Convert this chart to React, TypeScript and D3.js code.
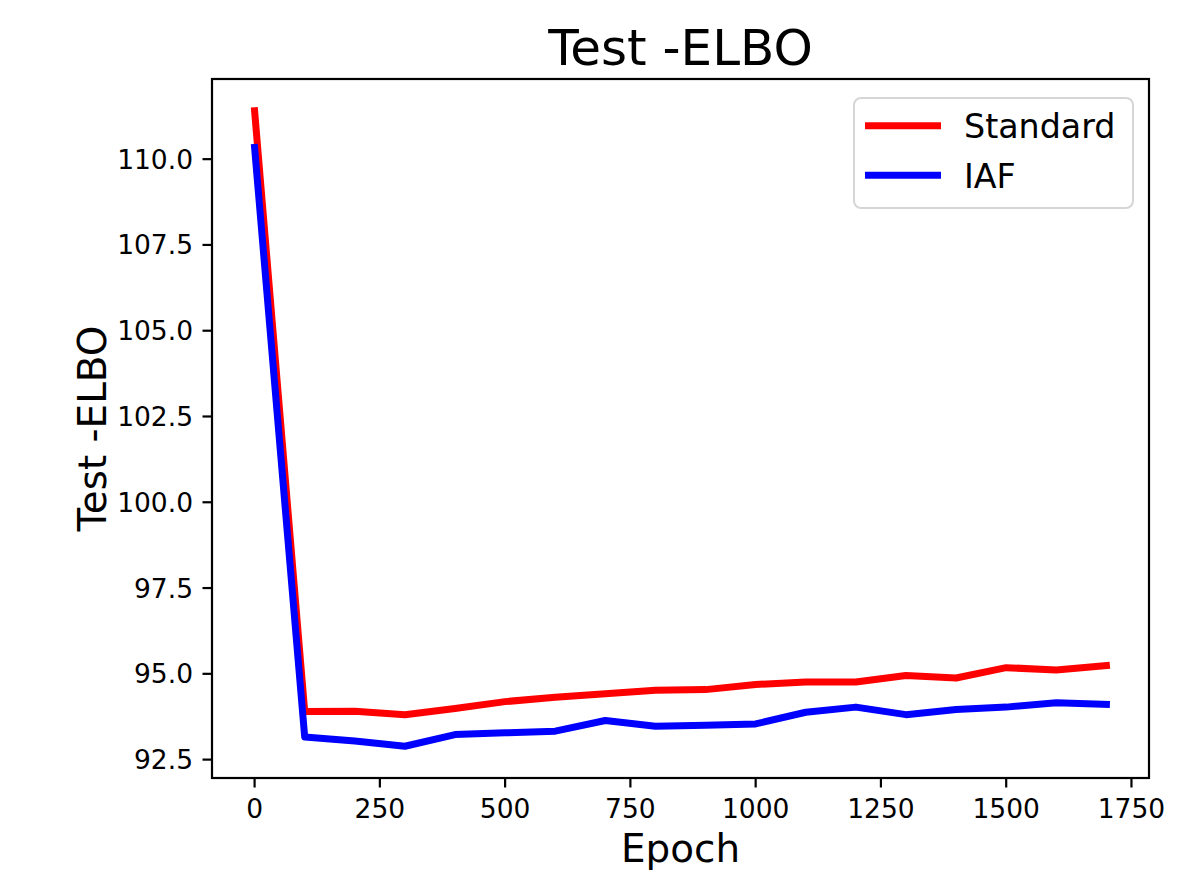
import React, { useRef, useEffect } from 'react';
import * as d3 from 'd3';

// epochs and test -ELBO values
const epochs = [0, 100, 200, 300, 400, 500, 600, 700, 800, 900, 1000, 1100, 1200, 1300, 1400, 1500, 1600, 1700];
const standard = [111.41, 93.9, 93.91, 93.81, 93.99, 94.19, 94.32, 94.42, 94.52, 94.54, 94.69, 94.76, 94.76, 94.95, 94.88, 95.18, 95.11, 95.24];
const iaf = [110.34, 93.16, 93.04, 92.89, 93.23, 93.28, 93.33, 93.64, 93.47, 93.5, 93.54, 93.88, 94.03, 93.81, 93.96, 94.03, 94.16, 94.11];
const seriesNames = ['Standard', 'IAF'];
const seriesColors = ['#ff0000', '#0000ff'];
const xTicks = [0, 250, 500, 750, 1000, 1250, 1500, 1750];
const yTicks = [92.5, 95.0, 97.5, 100.0, 102.5, 105.0, 107.5, 110.0];

const FONT = '"DejaVu Sans", sans-serif';

const TestElboChart: React.FC = () => {
  const chartRef = useRef<SVGSVGElement>(null);

  useEffect(() => {
    if (!chartRef.current) return;
    const svg = d3.select(chartRef.current);
    svg.selectAll('*').remove();

    const left = 212, right = 1149, top = 79, bottom = 778;

    // matplotlib style 5% margins
    const xr = d3.max(epochs)! - d3.min(epochs)!;
    const allY = [...standard, ...iaf];
    const yMin = d3.min(allY)!, yMax = d3.max(allY)!;
    const yr = yMax - yMin;

    const x = d3.scaleLinear()
      .domain([d3.min(epochs)! - xr * 0.05, d3.max(epochs)! + xr * 0.05])
      .range([left, right]);
    const y = d3.scaleLinear()
      .domain([yMin - yr * 0.05, yMax + yr * 0.05])
      .range([bottom, top]);

    svg.append('rect')
      .attr('width', 1180).attr('height', 870).attr('fill', '#fff');

    // lines
    const data = [standard, iaf];
    const line = d3.line<number>()
      .x((_, i) => x(epochs[i]))
      .y(d => y(d));

    data.forEach((vals, k) => {
      svg.append('path')
        .datum(vals)
        .attr('fill', 'none')
        .attr('stroke', seriesColors[k])
        .attr('stroke-width', 7)
        .attr('stroke-linejoin', 'round')
        .attr('stroke-linecap', 'square')
        .attr('d', line);
    });

    // spines
    svg.append('rect')
      .attr('x', left).attr('y', top)
      .attr('width', right - left).attr('height', bottom - top)
      .attr('fill', 'none')
      .attr('stroke', '#000')
      .attr('stroke-width', 2.2);

    // x ticks
    const xg = svg.append('g');
    xTicks.forEach(t => {
      xg.append('line')
        .attr('x1', x(t)).attr('x2', x(t))
        .attr('y1', bottom).attr('y2', bottom + 9.5)
        .attr('stroke', '#000').attr('stroke-width', 2.2);
      xg.append('text')
        .attr('x', x(t)).attr('y', 818)
        .attr('text-anchor', 'middle')
        .style('font-family', FONT)
        .style('font-size', '26.5px')
        .text(String(t));
    });

    // y ticks
    const yg = svg.append('g');
    yTicks.forEach(t => {
      yg.append('line')
        .attr('x1', left - 9.5).attr('x2', left)
        .attr('y1', y(t)).attr('y2', y(t))
        .attr('stroke', '#000').attr('stroke-width', 2.2);
      yg.append('text')
        .attr('x', left - 19).attr('y', y(t))
        .attr('dy', '0.36em')
        .attr('text-anchor', 'end')
        .style('font-family', FONT)
        .style('font-size', '26.5px')
        .text(t.toFixed(1));
    });

    // title and axis labels
    svg.append('text')
      .attr('x', (left + right) / 2).attr('y', 65)
      .attr('text-anchor', 'middle')
      .style('font-family', FONT)
      .style('font-size', '50px')
      .text('Test -ELBO');

    svg.append('text')
      .attr('x', (left + right) / 2).attr('y', 862)
      .attr('text-anchor', 'middle')
      .style('font-family', FONT)
      .style('font-size', '38.9px')
      .text('Epoch');

    svg.append('text')
      .attr('transform', `translate(106,${(top + bottom) / 2}) rotate(-90)`)
      .attr('text-anchor', 'middle')
      .style('font-family', FONT)
      .style('font-size', '38.9px')
      .text('Test -ELBO');

    // legend
    const legend = svg.append('g');
    legend.append('rect')
      .attr('x', 854).attr('y', 98)
      .attr('width', 279).attr('height', 110)
      .attr('rx', 7)
      .attr('fill', '#fff')
      .attr('stroke', '#d6d6d6')
      .attr('stroke-width', 2);

    seriesNames.forEach((name, i) => {
      const ly = 125.7 + i * 49.5;
      legend.append('line')
        .attr('x1', 865).attr('x2', 941)
        .attr('y1', ly).attr('y2', ly)
        .attr('stroke', seriesColors[i])
        .attr('stroke-width', 7);
      legend.append('text')
        .attr('x', 964).attr('y', ly + 12.3)
        .style('font-family', FONT)
        .style('font-size', '33.3px')
        .text(name);
    });
  }, []);

  return (
    <svg
      ref={chartRef}
      width={1180}
      height={870}
      style={{ position: 'absolute', left: 0, top: 0 }}
    />
  );
};

export default function App() {
  return <TestElboChart />;
}
